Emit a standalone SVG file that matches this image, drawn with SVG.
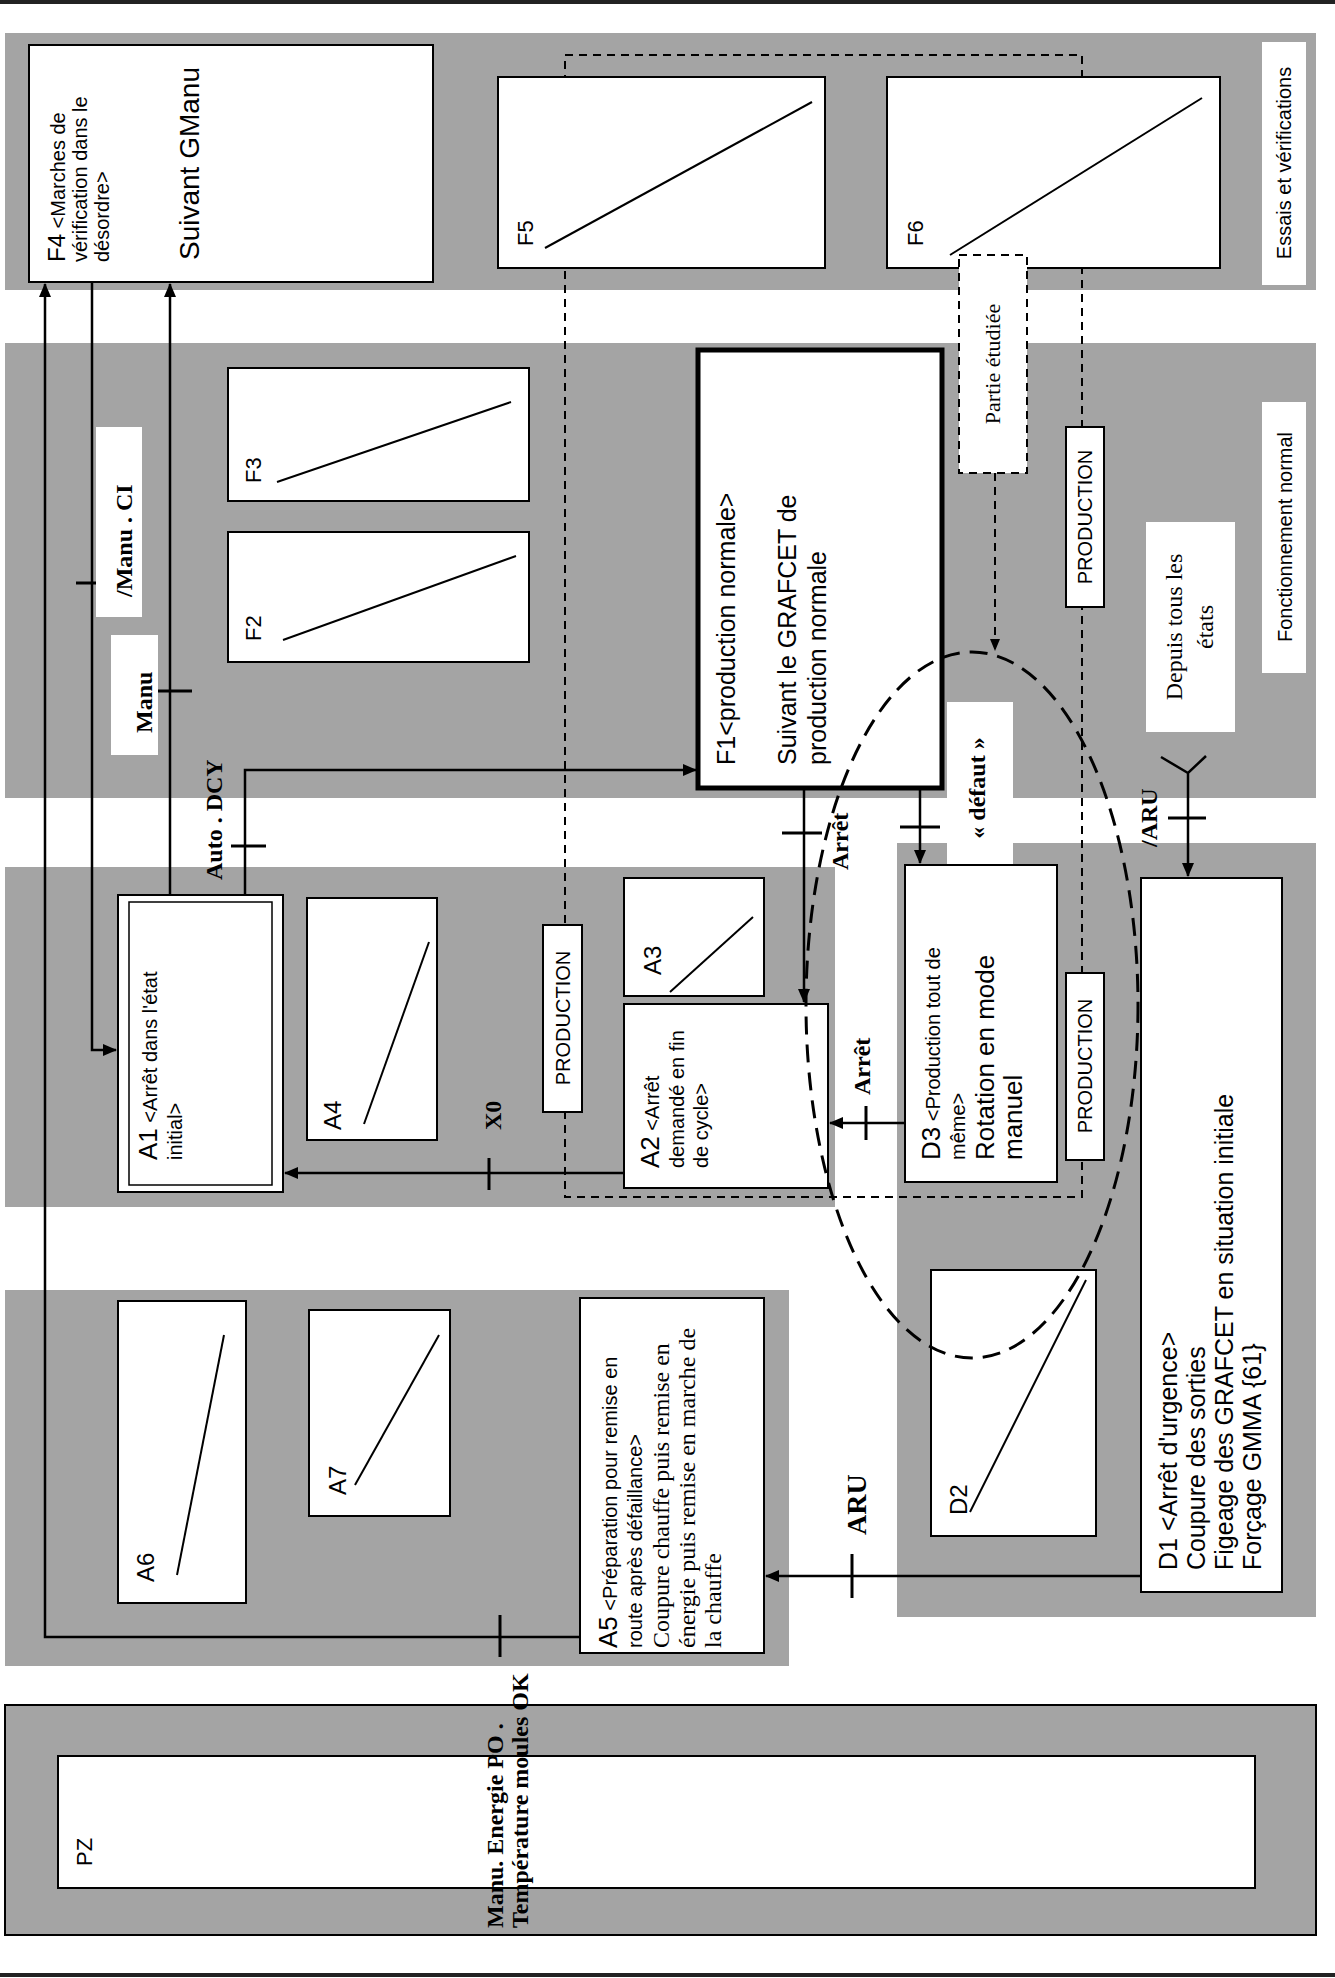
<svg xmlns="http://www.w3.org/2000/svg" width="1335" height="1978" viewBox="0 0 1335 1978">
<style>
.band{fill:#a4a4a4;stroke:none}
.box{fill:#fff;stroke:#000;stroke-width:2}
.lbl{fill:#fff;stroke:none}
.diag{stroke:#000;stroke-width:2;fill:none}
.con{stroke:#000;stroke-width:2.5;fill:none}
.tick{stroke:#000;stroke-width:3;fill:none}
.s{font-family:"Liberation Sans",Arial,sans-serif;fill:#000}
.t{font-family:"Liberation Serif","Times New Roman",serif;fill:#000}
.tb{font-family:"Liberation Serif","Times New Roman",serif;font-weight:bold;fill:#000}
</style>
<defs>
<marker id="arr" markerWidth="14" markerHeight="12" refX="13" refY="6" orient="auto" markerUnits="userSpaceOnUse">
<path d="M0,0 L14,6 L0,12 z" fill="#000"/>
</marker>
<marker id="arrs" markerWidth="12" markerHeight="10" refX="11" refY="5" orient="auto" markerUnits="userSpaceOnUse">
<path d="M0,0 L12,5 L0,10 z" fill="#000"/>
</marker>
</defs>
<rect x="0" y="0" width="1335" height="1978" fill="#fff"/>
<line x1="0" y1="2" x2="1335" y2="2" stroke="#222" stroke-width="4"/>
<line x1="0" y1="1975" x2="1335" y2="1975" stroke="#222" stroke-width="4"/>

<g id="zones">
<rect class="band" x="5" y="33" width="1311" height="257"/>
<rect class="band" x="5" y="343" width="1311" height="455"/>
<rect class="band" x="5" y="867" width="830" height="340"/>
<rect class="band" x="5" y="1290" width="784" height="376"/>
<rect class="band" x="897" y="843" width="419" height="774"/>
</g>

<g id="PZ">
<rect x="5" y="1705" width="1311" height="230" fill="#a4a4a4" stroke="#000" stroke-width="2"/>
<rect class="box" x="58" y="1756" width="1197" height="132"/>
<text class="s" font-size="22" transform="translate(92,1866) rotate(-90)">PZ</text>
</g>

<g id="production-zone">
<rect x="565" y="55" width="517" height="1142" fill="none" stroke="#000" stroke-width="2" stroke-dasharray="8 6"/>
</g>

<g id="F4">
<rect class="box" x="29" y="45" width="404" height="237"/>
<text class="s" transform="translate(65,262) rotate(-90)"><tspan font-size="24">F4</tspan><tspan font-size="20"> &lt;Marches de</tspan><tspan font-size="20" x="0" dy="22">vérification dans le</tspan><tspan font-size="20" x="0" dy="22">désordre&gt;</tspan></text>
<text class="s" font-size="28" transform="translate(199,260) rotate(-90)">Suivant GManu</text>
</g>
<g id="F5">
<rect class="box" x="498" y="77" width="327" height="191"/>
<line class="diag" x1="545" y1="248" x2="812" y2="102"/>
<text class="s" font-size="22" transform="translate(533,246) rotate(-90)">F5</text>
</g>
<g id="F6">
<rect class="box" x="887" y="77" width="333" height="191"/>
<line class="diag" x1="950" y1="255" x2="1202" y2="98"/>
<text class="s" font-size="22" transform="translate(923,246) rotate(-90)">F6</text>
</g>
<g id="essais">
<rect class="lbl" x="1262" y="42" width="44" height="243"/>
<text class="s" font-size="20" text-anchor="middle" transform="translate(1291,163) rotate(-90)">Essais et vérifications</text>
</g>
<g id="partie">
<rect x="959" y="255" width="68" height="218" fill="#fff" stroke="#000" stroke-width="2" stroke-dasharray="8 6"/>
<text class="t" font-size="22" text-anchor="middle" transform="translate(1000,364) rotate(-90)">Partie étudiée</text>
</g>

<g id="F3">
<rect class="box" x="228" y="368" width="301" height="133"/>
<line class="diag" x1="277" y1="482" x2="511" y2="402"/>
<text class="s" font-size="22" transform="translate(261,483) rotate(-90)">F3</text>
</g>
<g id="F2">
<rect class="box" x="228" y="532" width="301" height="130"/>
<line class="diag" x1="283" y1="640" x2="516" y2="556"/>
<text class="s" font-size="22" transform="translate(261,641) rotate(-90)">F2</text>
</g>
<g id="F1">
<rect x="698" y="350" width="244" height="438" fill="#fff" stroke="#000" stroke-width="5"/>
<text class="s" font-size="25" transform="translate(735,765) rotate(-90)">F1&lt;production normale&gt;<tspan x="0" dy="61">Suivant le GRAFCET de</tspan><tspan x="0" dy="30">production normale</tspan></text>
</g>
<g id="prod-F">
<rect class="box" x="1066" y="427" width="38" height="180"/>
<text class="s" font-size="20" text-anchor="middle" transform="translate(1092,517) rotate(-90)">PRODUCTION</text>
</g>
<g id="fonctionnement">
<rect class="lbl" x="1262" y="402" width="44" height="271"/>
<text class="s" font-size="20" text-anchor="middle" transform="translate(1292,537) rotate(-90)">Fonctionnement normal</text>
</g>
<g id="depuis">
<rect class="lbl" x="1146" y="522" width="89" height="210"/>
<text class="t" font-size="24" text-anchor="middle" transform="translate(1182,627) rotate(-90)">Depuis tous les<tspan x="0" dy="31">états</tspan></text>
</g>
<g id="defaut">
<rect class="lbl" x="947" y="702" width="66" height="163"/>
<text class="tb" font-size="24" text-anchor="middle" transform="translate(985,788) rotate(-90)">« défaut »</text>
</g>
<g id="manuci">
<rect class="lbl" x="96" y="427" width="46" height="190"/>
<text class="tb" font-size="24" transform="translate(132,597) rotate(-90)">/Manu . CI</text>
</g>
<g id="manu">
<rect class="lbl" x="111" y="635" width="47" height="120"/>
<text class="tb" font-size="24" transform="translate(152,733) rotate(-90)">Manu</text>
</g>

<g id="A1">
<rect class="box" x="118" y="895" width="165" height="297"/>
<rect x="129" y="902" width="143" height="283" fill="none" stroke="#000" stroke-width="1.5"/>
<text class="s" transform="translate(157,1160) rotate(-90)"><tspan font-size="26">A1</tspan><tspan font-size="20"> &lt;Arrêt dans l'état</tspan><tspan font-size="20" x="0" dy="25">initial&gt;</tspan></text>
</g>
<g id="A4">
<rect class="box" x="307" y="898" width="130" height="242"/>
<line class="diag" x1="364" y1="1124" x2="429" y2="942"/>
<text class="s" font-size="24" transform="translate(341,1130) rotate(-90)">A4</text>
</g>
<g id="prod-A">
<rect class="box" x="543" y="925" width="39" height="187"/>
<text class="s" font-size="20" text-anchor="middle" transform="translate(570,1018) rotate(-90)">PRODUCTION</text>
</g>
<g id="A3">
<rect class="box" x="624" y="878" width="140" height="118"/>
<line class="diag" x1="670" y1="992" x2="753" y2="917"/>
<text class="s" font-size="24" transform="translate(661,975) rotate(-90)">A3</text>
</g>
<g id="A2">
<rect class="box" x="624" y="1004" width="204" height="184"/>
<text class="s" transform="translate(659,1168) rotate(-90)"><tspan font-size="26">A2</tspan><tspan font-size="20"> &lt;Arrêt</tspan><tspan font-size="20" x="0" dy="25">demandé en fin</tspan><tspan font-size="20" x="0" dy="24">de cycle&gt;</tspan></text>
</g>
<g id="D3">
<rect class="box" x="905" y="865" width="152" height="317"/>
<text class="s" transform="translate(940,1160) rotate(-90)"><tspan font-size="26">D3</tspan><tspan font-size="20"> &lt;Production tout de</tspan><tspan font-size="20" x="0" dy="25">même&gt;</tspan><tspan font-size="26" x="0" dy="29">Rotation en mode</tspan><tspan font-size="26" x="0" dy="28">manuel</tspan></text>
</g>
<g id="prod-D">
<rect class="box" x="1066" y="973" width="38" height="187"/>
<text class="s" font-size="20" text-anchor="middle" transform="translate(1092,1066) rotate(-90)">PRODUCTION</text>
</g>
<g id="D1">
<rect class="box" x="1141" y="878" width="141" height="714"/>
<text class="s" font-size="25" transform="translate(1177,1570) rotate(-90)">D1 &lt;Arrêt d'urgence&gt;<tspan x="0" dy="28">Coupure des sorties</tspan><tspan x="0" dy="28">Figeage des GRAFCET en situation initiale</tspan><tspan x="0" dy="28">Forçage GMMA {61}</tspan></text>
</g>
<g id="D2">
<rect class="box" x="931" y="1270" width="165" height="266"/>
<line class="diag" x1="970" y1="1512" x2="1086" y2="1280"/>
<text class="s" font-size="24" transform="translate(967,1515) rotate(-90)">D2</text>
</g>
<g id="A6">
<rect class="box" x="118" y="1301" width="128" height="302"/>
<line class="diag" x1="177" y1="1575" x2="224" y2="1335"/>
<text class="s" font-size="24" transform="translate(154,1582) rotate(-90)">A6</text>
</g>
<g id="A7">
<rect class="box" x="309" y="1310" width="141" height="206"/>
<line class="diag" x1="355" y1="1485" x2="439" y2="1335"/>
<text class="s" font-size="24" transform="translate(346,1495) rotate(-90)">A7</text>
</g>
<g id="A5">
<rect class="box" x="580" y="1298" width="184" height="355"/>
<text transform="translate(617,1648) rotate(-90)"><tspan class="s" font-size="26">A5</tspan><tspan class="s" font-size="20"> &lt;Préparation pour remise en</tspan><tspan class="s" font-size="20" x="0" dy="25">route après défaillance&gt;</tspan><tspan class="t" font-size="24" x="0" dy="27">Coupure chauffe puis remise en</tspan><tspan class="t" font-size="24" x="0" dy="26">énergie puis remise en marche de</tspan><tspan class="t" font-size="24" x="0" dy="26">la chauffe</tspan></text>
</g>

<g id="ellipse">
<ellipse cx="972" cy="1005" rx="166" ry="353" fill="none" stroke="#000" stroke-width="3" stroke-dasharray="18 10"/>
</g>

<g id="connectors">
<path class="con" d="M580,1637 H45 V284" marker-end="url(#arr)"/>
<line class="tick" x1="500" y1="1615" x2="500" y2="1657"/>
<path class="con" d="M92,282 V1050 H116" marker-end="url(#arr)"/>
<line class="tick" x1="76" y1="583" x2="96" y2="583"/>
<path class="con" d="M170,895 V284" marker-end="url(#arr)"/>
<line class="tick" x1="158" y1="691" x2="192" y2="691"/>
<path class="con" d="M245,895 V770 H696" marker-end="url(#arr)"/>
<line class="tick" x1="231" y1="846" x2="266" y2="846"/>
<path class="con" d="M624,1173 H285" marker-end="url(#arr)"/>
<line class="tick" x1="489" y1="1158" x2="489" y2="1190"/>
<path class="con" d="M804,790 V1002" marker-end="url(#arr)"/>
<line class="tick" x1="782" y1="833" x2="822" y2="833"/>
<path class="con" d="M920,790 V863" marker-end="url(#arr)"/>
<line class="tick" x1="900" y1="827" x2="940" y2="827"/>
<path class="con" d="M905,1123 H830" marker-end="url(#arr)"/>
<line class="tick" x1="866" y1="1106" x2="866" y2="1140"/>
<path class="con" d="M1161,757 L1188,773 L1206,756 M1188,773 V876" marker-end="url(#arr)"/>
<line class="tick" x1="1168" y1="818" x2="1206" y2="818"/>
<path class="con" d="M1141,1576 H766" marker-end="url(#arr)"/>
<line class="tick" x1="852" y1="1554" x2="852" y2="1598"/>
<path d="M995,473 V650" fill="none" stroke="#000" stroke-width="2" stroke-dasharray="8 6" marker-end="url(#arrs)"/>
<text class="tb" font-size="24" transform="translate(222,880) rotate(-90)">Auto . DCY</text>
<text class="tb" font-size="24" transform="translate(501,1130) rotate(-90)">X0</text>
<text class="tb" font-size="24" transform="translate(848,870) rotate(-90)">Arrêt</text>
<text class="tb" font-size="24" transform="translate(870,1095) rotate(-90)">Arrêt</text>
<text class="tb" font-size="24" transform="translate(1157,847) rotate(-90)">/ARU</text>
<text class="tb" font-size="28" transform="translate(866,1535) rotate(-90)">ARU</text>
<text class="tb" font-size="24" transform="translate(503,1928) rotate(-90)">Manu. Energie PO .<tspan x="0" dy="25">Température moules OK</tspan></text>
</g>
</svg>
